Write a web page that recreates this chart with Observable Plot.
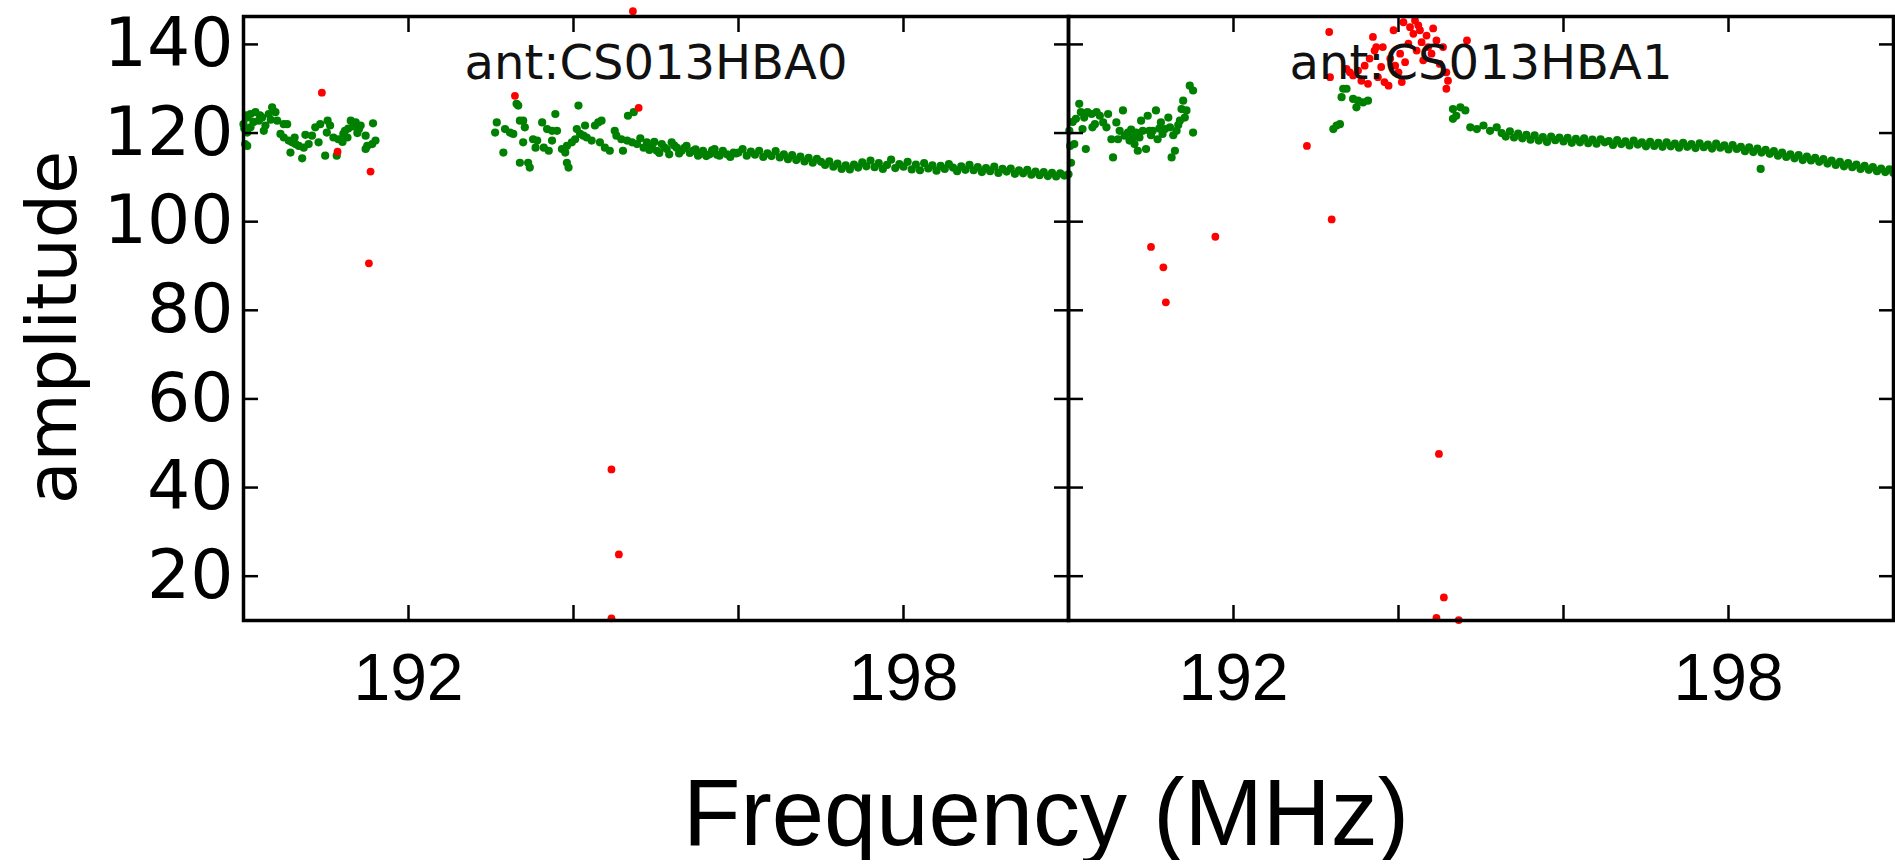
<!DOCTYPE html>
<html>
<head>
<meta charset="utf-8">
<script src="https://cdn.jsdelivr.net/npm/d3@7"></script>
<script src="https://cdn.jsdelivr.net/npm/@observablehq/plot@0.6"></script>
<style>
  body { margin: 0; background: #fff; }
  svg { display: block; }
  #xlabel { font-family: "Liberation Sans", Arial, sans-serif; font-size: 94px; line-height: 94px;
            text-align: center; padding-left: 197px; width: 1698px; color: #000; }
</style>
</head>
<body>
<div id="chart"></div>
<div id="xlabel">Frequency (MHz)</div>
<script>
const antennas = ["ant:CS013HBA0", "ant:CS013HBA1"];
const yLabel = "amplitude";
const xTicks = [192, 194, 196, 198];
const xTickLabels = [192, 198];
const yTicks = [20, 40, 60, 80, 100, 120, 140];

// ---- antenna 0, good (green) ----
const good0Freq = [190.00,190.01,190.02,190.03,190.045,190.045,190.045,190.085,190.085,190.12,190.145,190.185,190.20,190.226,190.246,190.266,190.306,190.33,190.347,190.387,190.408,190.448,190.488,190.488,190.529,190.548,190.569,190.59,190.62,190.63,190.67,190.711,190.73,190.75,190.79,190.83,190.87,190.91,190.93,190.99,191.01,191.02,191.05,191.09,191.13,191.15,191.20,191.21,191.23,191.26,191.27,191.30,191.33,191.36,191.38,191.40,191.42,191.48,191.48,191.50,191.56,191.57,191.60,
 193.05,193.07,193.15,193.17,193.23,193.27,193.31,193.33,193.35,193.35,193.39,193.39,193.41,193.45,193.47,193.51,193.54,193.56,193.62,193.64,193.68,193.70,193.74,193.74,193.78,193.80,193.86,193.90,193.92,193.92,193.94,193.98,194.02,194.04,194.06,194.08,194.12,194.14,194.16,194.22,194.26,194.30,194.32,194.34,194.38,194.44,194.50,194.52,194.58,194.60,194.65,194.66,194.71,194.73,194.77,194.81,194.85,194.89,194.92,194.95,194.98,195.01,195.04,195.07,195.10,195.13,195.16,195.19,195.22,195.25,195.28,195.31,195.34,195.37,195.41,195.45,195.48,195.51,195.54,195.57,195.61,195.65,195.68,195.71,195.74,195.77,195.81,195.86,195.90,195.94,195.97,
 196.00,196.05,196.10,196.15,196.20,196.25,196.30,196.35,196.40,196.45,196.50,196.55,196.60,196.65,196.70,196.75,196.80,196.85,196.90,196.95,197.00,197.05,197.10,197.15,197.20,197.25,197.30,197.35,197.40,197.45,197.50,197.55,197.60,197.65,197.70,197.75,197.80,197.85,197.90,197.95,198.00,198.05,198.10,198.15,198.20,198.25,198.30,198.35,198.40,198.45,198.50,198.55,198.60,198.65,198.70,198.75,198.80,198.85,198.90,198.95,199.00,199.05,199.10,199.15,199.20,199.25,199.30,199.35,199.40,199.45,199.50,199.55,199.60,199.65,199.70,199.75,199.80,199.85,199.90,199.95,200.00];
const good0Amp = [122.0,121.0,117.5,124.0,123.5,120.1,117.1,124.3,121.3,122.5,124.7,122.8,124.0,123.5,120.5,121.7,124.3,123.0,125.8,124.7,122.8,119.8,122.0,119.0,122.0,118.3,115.6,117.9,119.0,117.5,117.1,114.3,116.7,119.6,117.5,119.4,121.3,117.9,122.0,114.9,120.1,122.8,121.7,119.0,114.9,118.6,118.0,119.8,120.5,119.0,121.0,122.8,121.5,122.4,120.0,120.9,121.7,119.4,116.4,117.1,117.5,122.2,118.3,
 120.1,122.4,115.6,120.9,120.1,119.8,126.6,126.2,122.8,113.3,122.8,117.9,121.3,113.3,112.2,118.6,116.7,118.3,122.4,116.7,120.9,116.0,120.5,118.3,124.3,120.5,116.4,115.6,113.3,117.1,112.2,117.9,118.6,120.9,126.2,119.8,119.4,121.7,119.0,118.3,121.7,122.4,117.9,122.8,116.7,116.0,120.5,119.4,118.6,116.0,118.3,123.9,117.9,124.7,117.5,118.8,116.7,117.9,116.2,117.1,118.0,116.0,115.5,117.5,116.8,116.4,115.2,117.9,117.2,116.7,115.4,116.0,116.6,117.1,115.5,116.0,116.3,114.9,115.3,116.0,114.8,115.2,116.1,116.4,115.1,114.9,116.0,115.2,114.6,115.6,115.4,
 115.6,116.4,114.9,115.8,115.1,116.0,114.6,115.4,114.8,115.9,114.5,115.2,114.1,115.0,113.9,114.7,113.6,114.4,113.3,114.2,113.5,112.8,113.6,112.4,113.1,111.9,112.7,111.8,112.9,112.2,113.4,112.5,113.8,112.3,113.2,111.9,112.8,114.0,112.1,113.0,112.4,113.5,111.8,112.9,111.6,113.2,112.0,112.7,111.5,112.6,111.9,113.0,112.2,111.4,112.5,111.7,112.8,111.6,112.3,111.2,112.1,111.4,112.4,111.0,111.9,111.3,112.0,110.8,111.6,110.9,111.7,110.6,111.3,110.5,111.2,110.3,111.0,110.2,110.9,110.4,110.7];

// ---- antenna 0, flagged (red) ----
const bad0Freq = [190.95,191.14,191.54,191.52,193.29,194.72,194.79,194.46,194.55,194.46];
const bad0Amp  = [129.1,115.8,111.3,90.6,128.4,147.5,125.7,44.1,24.9,10.5];

// ---- antenna 1, good (green) ----
const good1Freq = [190.01,190.02,190.03,190.05,190.07,190.09,190.13,190.15,190.17,190.19,190.21,190.23,190.28,190.29,190.32,190.34,190.38,190.42,190.46,190.48,190.52,190.54,190.58,190.60,190.62,190.66,190.68,190.72,190.74,190.76,190.78,190.80,190.82,190.84,190.86,190.88,190.90,190.94,190.96,190.98,191.00,191.02,191.06,191.08,191.10,191.12,191.14,191.17,191.21,191.23,191.25,191.27,191.29,191.31,191.33,191.35,191.37,191.39,191.41,191.43,191.47,191.51,191.51,
 193.21,193.25,193.29,193.31,193.33,193.37,193.45,193.49,193.51,193.57,193.63,
 194.66,194.66,194.70,194.75,194.81,194.87,194.95,195.03,195.11,195.19,
 195.25,195.30,195.35,195.40,195.45,195.50,195.55,195.60,195.65,195.70,195.75,195.80,195.85,195.90,195.95,196.00,196.05,196.10,196.15,196.20,196.25,196.30,196.35,196.40,196.45,196.50,196.55,196.60,196.65,196.70,196.75,196.80,196.85,196.90,196.95,197.00,197.05,197.10,197.15,197.20,197.25,197.30,197.35,197.40,197.45,197.50,197.55,197.60,197.65,197.70,197.75,197.80,197.85,197.90,197.95,198.00,198.05,198.10,198.15,198.20,198.25,198.30,198.35,198.39,198.40,198.45,198.50,198.55,198.60,198.65,198.70,198.75,198.80,198.85,198.90,198.95,199.00,199.05,199.10,199.15,199.20,199.25,199.30,199.35,199.40,199.45,199.50,199.55,199.60,199.65,199.70,199.75,199.80,199.85,199.90,199.95,200.00];
const good1Amp = [120.5,117.1,113.3,122.5,117.5,123.2,126.6,124.7,120.9,123.5,116.4,124.7,124.3,121.3,122.0,124.7,123.9,122.4,121.3,124.3,118.6,114.5,122.4,118.6,120.5,125.1,119.4,120.1,118.3,120.8,119.0,117.5,120.1,116.0,119.0,122.8,120.5,116.4,123.9,120.5,119.5,120.5,125.1,118.6,121.0,122.4,119.8,120.9,123.5,121.3,114.5,119.5,116.0,120.5,121.8,122.8,125.4,127.3,123.5,125.1,130.7,129.6,120.1,
 120.9,121.7,122.0,128.1,130.0,130.0,127.7,125.8,127.3,126.9,127.3,
 125.4,123.2,123.9,125.8,125.1,121.3,120.9,121.7,120.5,121.3,
 120.0,119.2,120.4,119.0,119.9,118.8,119.6,118.5,119.5,118.3,119.1,118.0,119.2,118.4,119.0,118.1,118.9,117.8,118.7,117.9,118.8,117.7,118.5,117.6,118.6,117.9,118.2,117.3,118.4,117.5,118.1,117.2,118.3,117.4,117.9,117.0,118.0,117.1,117.8,116.9,117.9,117.0,117.6,116.7,117.8,116.9,117.5,116.6,117.7,116.8,117.4,116.5,117.6,116.7,117.2,116.3,117.3,116.4,116.9,115.9,116.8,115.7,116.5,111.9,115.6,116.2,115.3,115.9,114.9,115.6,114.6,115.2,114.3,115.0,113.9,114.7,113.8,114.4,113.5,114.1,113.1,113.8,112.8,113.5,112.5,113.2,112.3,112.9,111.9,112.6,111.7,112.3,111.4,112.0,111.2,111.8,111.0];

// ---- antenna 1, flagged (red) ----
const bad1Freq = [191.00,191.15,191.18,191.78,192.89,193.19,194.49,194.55,194.46,194.73,
 193.16,193.17,193.37,193.41,193.45,193.51,193.55,193.59,193.63,193.65,193.69,193.71,193.73,193.75,193.79,193.81,193.83,193.88,193.90,193.94,193.96,194.00,194.02,194.04,194.06,194.08,194.12,194.14,194.18,194.20,194.22,194.24,194.26,194.28,194.30,194.34,194.36,194.40,194.42,194.46,194.50,194.54,194.58,194.60,194.58,194.83];
const bad1Amp  = [94.3,89.7,81.8,96.6,117.1,100.5,47.6,15.2,10.6,10.1,
 142.8,132.6,134.5,133.7,133.0,134.1,131.8,135.2,131.1,136.8,141.7,138.6,139.4,132.6,134.9,139.4,131.5,130.7,136.8,143.2,135.2,133.7,137.9,131.5,145.0,136.0,140.2,143.9,142.4,145.4,138.6,144.3,143.2,140.5,136.4,142.0,139.4,137.9,143.6,140.9,135.6,139.4,133.7,131.8,130.0,140.9];

const toRows = (ant, fs, as) => fs.map((f, i) => ({ant, freq: f, amp: as[i]}));
const good = [...toRows(antennas[0], good0Freq, good0Amp), ...toRows(antennas[1], good1Freq, good1Amp)];
const flagged = [...toRows(antennas[0], bad0Freq, bad0Amp), ...toRows(antennas[1], bad1Freq, bad1Amp)];

const chart = Plot.plot({
  width: 1895,
  height: 766,
  marginLeft: 243,
  marginRight: 2,
  marginTop: 16,
  marginBottom: 146,
  style: {fontFamily: "'DejaVu Sans', sans-serif", background: "white", color: "black"},
  fx: {domain: antennas, padding: 0, axis: null},
  x: {domain: [190, 200]},
  y: {domain: [10, 146.3]},
  marks: [
    Plot.dot(good, {fx: "ant", x: "freq", y: "amp", r: 4.1, fill: "#008000"}),
    Plot.dot(flagged, {fx: "ant", x: "freq", y: "amp", r: 3.9, fill: "#ff0000"}),
    Plot.frame({stroke: "black", strokeWidth: 3.5}),
    Plot.axisX(xTicks, {anchor: "bottom", tickSize: -15, strokeWidth: 2.5, fill: "none", label: null}),
    Plot.axisX(xTicks, {anchor: "top", tickSize: -15, strokeWidth: 2.5, fill: "none", label: null}),
    Plot.axisX(xTickLabels, {anchor: "bottom", tickSize: 0, tickPadding: 33, fontSize: 66,
      fontFamily: "'Liberation Sans', Arial, sans-serif", label: null, tickFormat: d => String(d)}),
    Plot.axisY(yTicks, {anchor: "left", facetAnchor: null, tickSize: -15, strokeWidth: 2.5, fill: "none", label: null}),
    Plot.axisY(yTicks, {anchor: "right", facetAnchor: null, tickSize: -15, strokeWidth: 2.5, fill: "none", label: null}),
    Plot.axisY(yTicks, {anchor: "left", tickSize: 0, tickPadding: 10, fontSize: 68, label: null, tickFormat: d => String(d)}),
    Plot.text(antennas, {fx: d => d, text: d => d, frameAnchor: "top", lineAnchor: "top", dy: 28, fontSize: 48, fill: "#111"}),
    Plot.text([yLabel], {fx: () => antennas[0], text: d => d, frameAnchor: "left", textAnchor: "middle", lineAnchor: "middle",
      rotate: -90, dx: -190, dy: 9, fontSize: 70})
  ]
});
document.getElementById("chart").appendChild(chart);
</script>
</body>
</html>
